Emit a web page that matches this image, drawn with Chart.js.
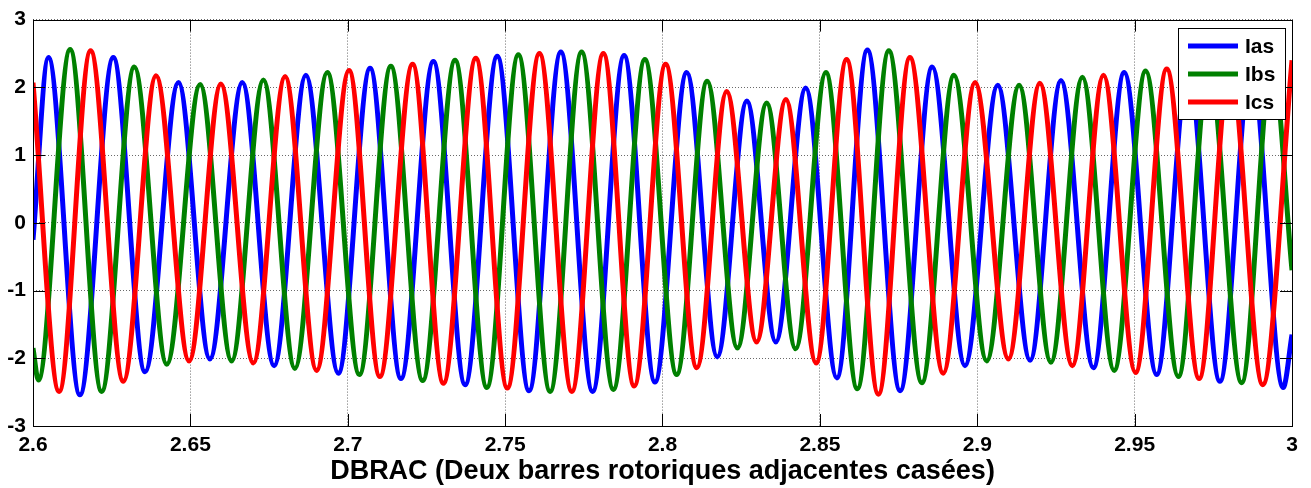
<!DOCTYPE html>
<html>
<head>
<meta charset="utf-8">
<script src="https://cdn.jsdelivr.net/npm/chart.js@4.4.0/dist/chart.umd.min.js"></script>
<style>
  body { margin: 0; background: #fff; }
</style>
</head>
<body>
<canvas id="charts1" width="1311" height="488"></canvas>
<script>
// peaks / troughs (time in s, current)
const iasT = [2.6000, 2.6049, 2.6149, 2.6255, 2.6356, 2.6462, 2.6562, 2.6665, 2.6766, 2.6867, 2.6970, 2.7071, 2.7169, 2.7272, 2.7373, 2.7475, 2.7576, 2.7677, 2.7778, 2.7878, 2.7976, 2.8077, 2.8174, 2.8268, 2.8360, 2.8455, 2.8554, 2.8651, 2.8755, 2.8857, 2.8961, 2.9065, 2.9168, 2.9266, 2.9369, 2.9467, 2.9570, 2.9670, 2.9771, 2.9870, 2.9972, 3.0000];
const iasV = [-0.25, 2.44, -2.54, 2.44, -2.20, 2.07, -2.01, 2.07, -2.11, 2.18, -2.22, 2.28, -2.30, 2.38, -2.39, 2.46, -2.48, 2.52, -2.49, 2.47, -2.35, 2.22, -1.98, 1.80, -1.76, 1.99, -2.29, 2.55, -2.48, 2.30, -2.11, 2.03, -2.03, 2.10, -2.14, 2.22, -2.24, 2.28, -2.34, 2.36, -2.43, -1.65];

const ibsT = [2.6000, 2.6017, 2.6118, 2.6218, 2.6322, 2.6425, 2.6531, 2.6631, 2.6732, 2.6832, 2.6935, 2.7037, 2.7137, 2.7238, 2.7341, 2.7442, 2.7542, 2.7643, 2.7743, 2.7844, 2.7944, 2.8045, 2.8142, 2.8238, 2.8331, 2.8423, 2.8519, 2.8619, 2.8719, 2.8824, 2.8926, 2.9030, 2.9133, 2.9234, 2.9334, 2.9435, 2.9535, 2.9639, 2.9736, 2.9840, 2.9937, 3.0000];
const ibsV = [-1.85, -2.32, 2.56, -2.49, 2.30, -2.09, 2.04, -2.04, 2.11, -2.15, 2.22, -2.24, 2.31, -2.33, 2.40, -2.43, 2.48, -2.49, 2.52, -2.46, 2.41, -2.24, 2.09, -1.85, 1.77, -1.86, 2.22, -2.45, 2.54, -2.36, 2.18, -2.04, 2.03, -2.06, 2.15, -2.18, 2.24, -2.27, 2.30, -2.36, 2.38, -0.70];

const icsT = [2.6000, 2.6083, 2.6183, 2.6287, 2.6391, 2.6496, 2.6597, 2.6700, 2.6801, 2.6901, 2.7004, 2.7102, 2.7206, 2.7304, 2.7407, 2.7507, 2.7609, 2.7712, 2.7812, 2.7910, 2.8010, 2.8109, 2.8204, 2.8299, 2.8392, 2.8488, 2.8585, 2.8686, 2.8786, 2.8892, 2.8993, 2.9099, 2.9199, 2.9302, 2.9401, 2.9503, 2.9602, 2.9705, 2.9803, 2.9907, 3.0000];
const icsV = [2.07, -2.49, 2.54, -2.34, 2.17, -2.04, 2.05, -2.07, 2.16, -2.18, 2.25, -2.27, 2.34, -2.37, 2.43, -2.44, 2.50, -2.49, 2.50, -2.41, 2.34, -2.14, 1.94, -1.76, 1.82, -2.07, 2.41, -2.53, 2.44, -2.22, 2.07, -2.01, 2.06, -2.11, 2.18, -2.21, 2.27, -2.30, 2.32, -2.39, 2.40];

const xTicks = [2.6, 2.65, 2.7, 2.75, 2.8, 2.85, 2.9, 2.95, 3.0];
const xTickLabels = ['2.6', '2.65', '2.7', '2.75', '2.8', '2.85', '2.9', '2.95', '3'];
const yTicks = [-3, -2, -1, 0, 1, 2, 3];
const yTickLabels = ['-3', '-2', '-1', '0', '1', '2', '3'];
const xTitle = 'DBRAC (Deux barres rotoriques adjacentes casées)';

const FONT = '"Liberation Sans", Arial, sans-serif';

function toPoints(ts, vs) {
  return ts.map((t, i) => ({ x: t, y: vs[i] }));
}

// matlab style box with inward ticks
const boxAxes = {
  id: 'boxAxes',
  afterDatasetsDraw(chart) {
    const { ctx, chartArea: a, scales } = chart;
    const len = 12;
    ctx.save();
    ctx.strokeStyle = '#000';
    ctx.lineWidth = 1;
    ctx.strokeRect(Math.round(a.left) + 0.5, Math.round(a.top) + 0.5,
      Math.round(a.right - a.left), Math.round(a.bottom - a.top));
    ctx.beginPath();
    xTicks.forEach(v => {
      const px = Math.round(scales.x.getPixelForValue(v)) + 0.5;
      ctx.moveTo(px, a.bottom); ctx.lineTo(px, a.bottom - len);
      ctx.moveTo(px, a.top); ctx.lineTo(px, a.top + len);
    });
    yTicks.forEach(v => {
      const py = Math.round(scales.y.getPixelForValue(v)) + 0.5;
      ctx.moveTo(a.left, py); ctx.lineTo(a.left + len, py);
      ctx.moveTo(a.right, py); ctx.lineTo(a.right - len, py);
    });
    ctx.stroke();
    ctx.restore();
  }
};

// legend box in the upper right corner
const legendBox = {
  id: 'legendBox',
  afterDatasetsDraw(chart) {
    const { ctx, chartArea } = chart;
    const x0 = Math.round(chartArea.right) - 114;
    const y0 = Math.round(chartArea.top) + 8;
    ctx.save();
    ctx.fillStyle = '#fff';
    ctx.fillRect(x0, y0, 107, 91);
    ctx.strokeStyle = '#000';
    ctx.lineWidth = 1;
    ctx.strokeRect(x0 + 0.5, y0 + 0.5, 107, 91);
    ctx.font = 'bold 21px ' + FONT;
    ctx.textBaseline = 'middle';
    chart.data.datasets.forEach((ds, i) => {
      const y = y0 + 18 + i * 28;
      ctx.strokeStyle = ds.borderColor;
      ctx.lineWidth = 5;
      ctx.beginPath();
      ctx.moveTo(x0 + 10, y);
      ctx.lineTo(x0 + 60, y);
      ctx.stroke();
      ctx.fillStyle = '#000';
      ctx.fillText(ds.label, x0 + 67, y + 1);
    });
    ctx.restore();
  }
};

const ctx1 = document.getElementById('charts1').getContext('2d');

function makeSet(label, ts, vs, color, order) {
  return {
    label: label,
    data: toPoints(ts, vs),
    borderColor: color,
    borderWidth: 5,
    pointRadius: 0,
    fill: false,
    cubicInterpolationMode: 'monotone',
    clip: 0,
    order: order
  };
}

new Chart(ctx1, {
  type: 'line',
  data: {
    datasets: [
      makeSet('Ias', iasT, iasV, '#0000ff', 3),
      makeSet('Ibs', ibsT, ibsV, '#008000', 2),
      makeSet('Ics', icsT, icsV, '#ff0000', 1)
    ]
  },
  options: {
    responsive: false,
    animation: false,
    layout: { padding: { top: 16, right: 19, left: 0, bottom: 0 } },
    plugins: {
      legend: { display: false },
      tooltip: { enabled: false }
    },
    scales: {
      x: {
        type: 'linear',
        min: 2.6,
        max: 3.0,
        afterBuildTicks: s => { s.ticks = xTicks.map(v => ({ value: v })); },
        afterFit: s => { s.height = 62; },
        ticks: {
          callback: (v, i) => xTickLabels[i],
          autoSkip: false,
          maxRotation: 0,
          padding: 7,
          color: '#000',
          font: { family: FONT, weight: 'bold', size: 21 }
        },
        grid: { color: '#6a6a6a', lineWidth: 1, drawTicks: false },
        border: { display: false, dash: [1, 2] },
        title: {
          display: true,
          text: xTitle,
          color: '#000',
          font: { family: FONT, weight: 'bold', size: 27 },
          padding: { top: 0, bottom: 0 }
        }
      },
      y: {
        type: 'linear',
        min: -3,
        max: 3,
        afterBuildTicks: s => { s.ticks = yTicks.map(v => ({ value: v })); },
        afterFit: s => { s.width = 33; },
        ticks: {
          callback: (v, i) => yTickLabels[i],
          padding: 7,
          color: '#000',
          font: { family: FONT, weight: 'bold', size: 21 }
        },
        grid: { color: '#6a6a6a', lineWidth: 1, drawTicks: false },
        border: { display: false, dash: [1, 2] }
      }
    }
  },
  plugins: [boxAxes, legendBox]
});
</script>
</body>
</html>
